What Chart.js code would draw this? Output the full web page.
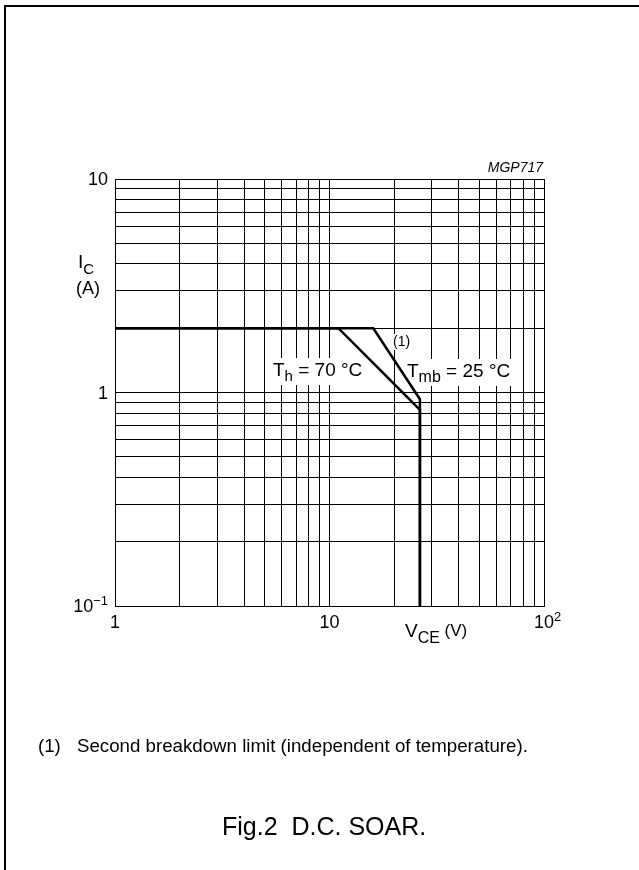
<!DOCTYPE html>
<html>
<head>
<meta charset="utf-8">
<script src="https://cdn.jsdelivr.net/npm/chart.js@4"></script>
<style>
  body { margin: 0; background: #fff; }
  #wrap { position: relative; width: 639px; height: 870px; }
</style>
</head>
<body>
<div id="wrap"><canvas id="soar"></canvas></div>
<script>
// grid values (log decades)
const xGrid = [1, 2, 3, 4, 5, 6, 7, 8, 9, 10, 20, 30, 40, 50, 60, 70, 80, 90, 100];
const yGrid = [0.1, 0.2, 0.3, 0.4, 0.5, 0.6, 0.7, 0.8, 0.9, 1, 2, 3, 4, 5, 6, 7, 8, 9, 10];

// tick labels
const xTickVals = [1, 10, 100];
const xTickText = ['1', '10', '10'];
const xTickSup = ['', '', '2'];
const yTickVals = [0.1, 1, 10];
const yTickText = ['10', '1', '10'];
const yTickSup = ['\u22121', '', ''];

// SOAR curves, V_CE (V) vs I_C (A)
const tmbV = [1, 16, 26.4, 26.4];
const tmbI = [2, 2, 0.93, 0.1];
const thV = [1, 11, 26.4, 26.4];
const thI = [2, 2, 0.83, 0.1];

const FONT = '"Liberation Sans", Arial, sans-serif';

function pts(xs, ys) {
  return xs.map((x, i) => ({ x: x, y: ys[i] }));
}

function partsWidth(ctx, parts) {
  let w = 0;
  parts.forEach(p => { ctx.font = p[1] + 'px ' + FONT; w += ctx.measureText(p[0]).width; });
  return w;
}

// text with sub/superscript pieces: parts = [[text, size, dy], ...]
function drawParts(ctx, parts, x, y, align) {
  const w = partsWidth(ctx, parts);
  let cx = x;
  if (align === 'right') cx = x - w;
  if (align === 'center') cx = x - w / 2;
  parts.forEach(p => {
    ctx.font = p[1] + 'px ' + FONT;
    ctx.fillText(p[0], cx, y + p[2]);
    cx += ctx.measureText(p[0]).width;
  });
}

// curve labels: [parts, x, baseline, padX, top, bottom]
const curveLabels = [
  [[['T', 19, 0], ['h', 15, 5], [' = 70 \u00B0C', 19, 0]], 273, 376, 3, 18, 9],
  [[['T', 19, 0], ['mb', 16, 5], [' = 25 \u00B0C', 19, 0]], 407, 377, 3, 18, 9],
  [[['(1)', 14, 0]], 393, 346, 1, 12, 4]
];

const textPlugin = {
  id: 'soarText',
  beforeDatasetsDraw(chart) {
    // labels mask the grid, the curves go over them
    const ctx = chart.ctx;
    ctx.save();
    ctx.textBaseline = 'alphabetic';
    curveLabels.forEach(l => {
      const w = partsWidth(ctx, l[0]);
      ctx.fillStyle = '#fff';
      ctx.fillRect(l[1] - l[3], l[2] - l[4], w + l[3] * 2, l[4] + l[5]);
      ctx.fillStyle = '#000';
      drawParts(ctx, l[0], l[1], l[2], 'left');
    });
    ctx.restore();
  },
  afterDraw(chart) {
    const ctx = chart.ctx;
    const xs = chart.scales.x, ys = chart.scales.y;
    ctx.save();
    ctx.fillStyle = '#000';
    ctx.textBaseline = 'alphabetic';

    // frame of the figure
    ctx.strokeStyle = '#000';
    ctx.lineWidth = 2;
    ctx.beginPath();
    ctx.moveTo(5, 870);
    ctx.lineTo(5, 6);
    ctx.lineTo(639, 6);
    ctx.stroke();

    // y tick labels
    yTickVals.forEach((v, i) => {
      const py = ys.getPixelForValue(v) + 6;
      const parts = [[yTickText[i], 18, 0]];
      if (yTickSup[i]) parts.push([yTickSup[i], 13, -7]);
      drawParts(ctx, parts, 108, py, 'right');
    });

    // x tick labels
    xTickVals.forEach((v, i) => {
      const px = xs.getPixelForValue(v);
      ctx.font = '18px ' + FONT;
      const w = ctx.measureText(xTickText[i]).width;
      ctx.fillText(xTickText[i], px - w / 2, 628);
      if (xTickSup[i]) {
        ctx.font = '13px ' + FONT;
        ctx.fillText(xTickSup[i], px + w / 2, 621);
      }
    });

    // axis titles
    drawParts(ctx, [['I', 19, 0], ['C', 15, 6]], 78, 268, 'left');
    drawParts(ctx, [['(A)', 18, 0]], 76, 294, 'left');
    drawParts(ctx, [['V', 19, 0], ['CE', 16, 6], [' (V)', 17, -1]], 405, 637, 'left');

    // code
    ctx.font = 'italic 14px ' + FONT;
    ctx.textAlign = 'right';
    ctx.fillText('MGP717', 543, 172);
    ctx.textAlign = 'left';

    // note and caption
    ctx.font = '18.7px ' + FONT;
    ctx.fillText('(1)', 38, 752);
    ctx.fillText('Second breakdown limit (independent of temperature).', 77, 752);
    ctx.font = '25px ' + FONT;
    ctx.fillText('Fig.2  D.C. SOAR.', 222, 835);
    ctx.restore();
  }
};

const gridOpts = { color: '#000', lineWidth: 1, drawTicks: false };

new Chart(document.getElementById('soar'), {
  type: 'scatter',
  data: {
    datasets: [
      {
        label: 'Tmb = 25 °C',
        data: pts(tmbV, tmbI),
        showLine: true,
        borderColor: '#000',
        borderWidth: 2.5,
        pointRadius: 0,
        borderJoinStyle: 'miter'
      },
      {
        label: 'Th = 70 °C',
        data: pts(thV, thI),
        showLine: true,
        borderColor: '#000',
        borderWidth: 2.5,
        pointRadius: 0,
        borderJoinStyle: 'miter'
      }
    ]
  },
  options: {
    responsive: true,
    maintainAspectRatio: false,
    animation: false,
    layout: { padding: { left: 115, right: 95, top: 179, bottom: 264 } },
    plugins: { legend: { display: false }, tooltip: { enabled: false } },
    scales: {
      x: {
        type: 'logarithmic',
        min: 1,
        max: 100,
        grid: gridOpts,
        border: { color: '#000', width: 1 },
        ticks: { display: false },
        afterBuildTicks: s => { s.ticks = xGrid.map(v => ({ value: v })); }
      },
      y: {
        type: 'logarithmic',
        min: 0.1,
        max: 10,
        grid: gridOpts,
        border: { color: '#000', width: 1 },
        ticks: { display: false },
        afterBuildTicks: s => { s.ticks = yGrid.map(v => ({ value: v })); }
      }
    }
  },
  plugins: [textPlugin]
});
</script>
</body>
</html>
